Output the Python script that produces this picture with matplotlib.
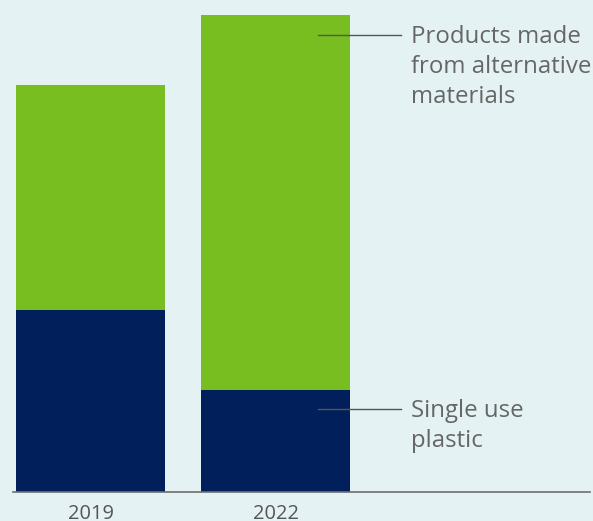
import matplotlib.pyplot as plt

years = ['2019', '2022']
single_use = [182, 102]
alternative = [225, 375]

bg = '#e4f2f3'
navy = '#001f5b'
green = '#78be20'
grey = '#666666'

plt.rcParams['font.family'] = ['Open Sans', 'DejaVu Sans']

fig = plt.figure(figsize=(5.93, 5.21), dpi=100, facecolor=bg)
ax = fig.add_axes([13 / 593, 29 / 521, 577 / 593, 477 / 521])
ax.set_facecolor(bg)

x = [0, 1]
ax.bar(x, single_use, width=0.805, color=navy)
ax.bar(x, alternative, width=0.805, bottom=single_use, color=green)

ax.set_xlim(-0.419, 2.70)
ax.set_ylim(0, 477)

for s in ['top', 'right', 'left']:
    ax.spines[s].set_visible(False)
ax.spines['bottom'].set_color('#6e6e6e')
ax.spines['bottom'].set_linewidth(1.2)
ax.set_yticks([])
ax.set_xticks(x)
ax.set_xticklabels(years, fontsize=14.4, color='#555555')
ax.tick_params(axis='x', length=0, pad=8.5)

# leader-line labels on the 2022 bar
y_top = single_use[1] + alternative[1] - 20
y_bot = single_use[1] - 19
for y, label in [(y_top, 'Products made\nfrom alternative\nmaterials'),
                 (y_bot, 'Single use\nplastic')]:
    ax.plot([1.23, 1.676], [y, y], color='#555555', linewidth=1, clip_on=False)
    ax.text(1.735, y + 10, label, fontsize=17.3, color=grey, va='top', ha='left',
            linespacing=1.33)

fig.savefig('out.png', dpi=100, facecolor=bg)
